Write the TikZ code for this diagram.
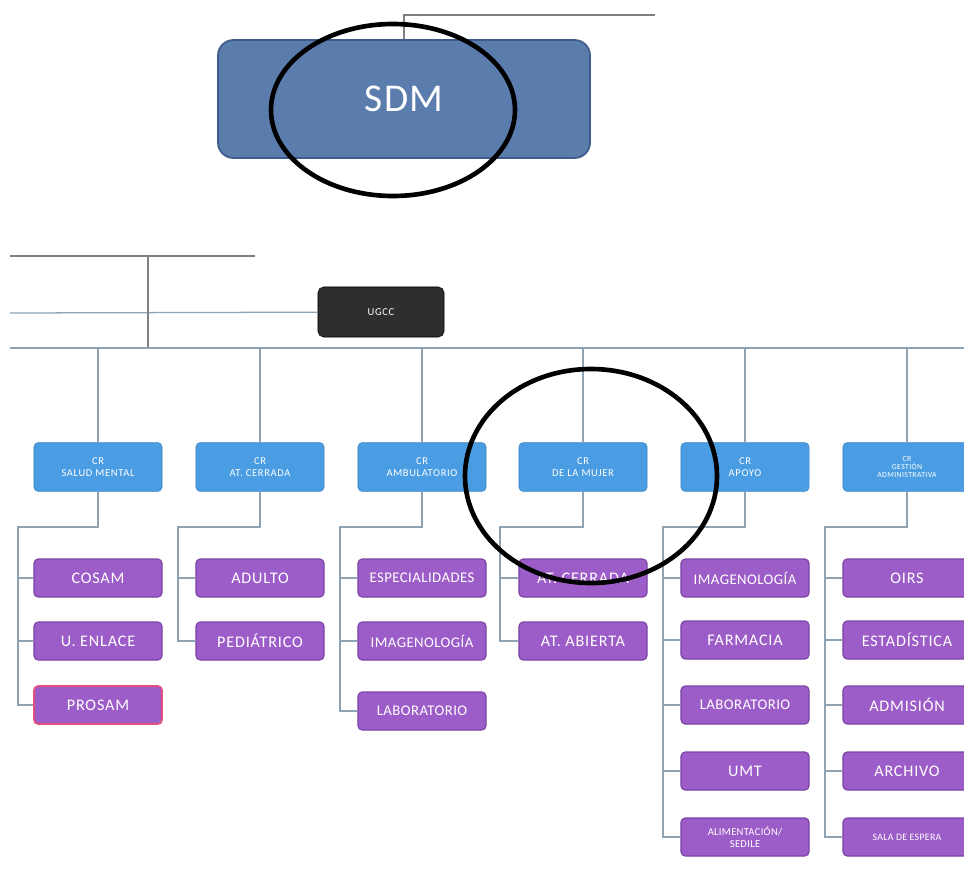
\documentclass[tikz,border=0pt]{standalone}
\usepackage{fontspec}
\setmainfont{Carlito}
\definecolor{sdmblue}{HTML}{5A7DAE}
\definecolor{sdmedge}{HTML}{3D5C8A}
\definecolor{crblue}{HTML}{4A9DE2}
\definecolor{credge}{HTML}{3B82C4}
\definecolor{unitpurple}{HTML}{9D5DC9}
\definecolor{unitedge}{HTML}{7A44A3}
\definecolor{prosamred}{HTML}{E2507E}
\definecolor{ugccgray}{HTML}{2E2E2E}
\definecolor{linegray}{HTML}{8FA3B3}

\begin{document}
\begin{tikzpicture}[x=0.025cm,y=-0.025cm,
    every node/.style={text=white,align=center},
    sdmbox/.style={fill=sdmblue,draw=sdmedge,line width=1.2pt,rounded corners=11pt,minimum width=9.3cm,minimum height=2.95cm,font=\fontsize{28}{30}\selectfont\addfontfeature{LetterSpace=4}},
    ugccbox/.style={fill=ugccgray,draw=black,rounded corners=4pt,minimum width=3.15cm,minimum height=1.25cm,font=\fontsize{7.5}{8}\selectfont\addfontfeature{LetterSpace=6}},
    crbox/.style={fill=crblue,draw=credge,rounded corners=3pt,minimum width=3.2cm,minimum height=1.22cm,font=\fontsize{7.5}{8}\selectfont\addfontfeature{LetterSpace=6}},
    unitbox/.style={fill=unitpurple,draw=unitedge,line width=0.8pt,rounded corners=3pt,minimum width=3.2cm,minimum height=0.95cm,font=\fontsize{11.5}{12}\selectfont\addfontfeature{LetterSpace=5}},
    smalltext/.style={font=\fontsize{10.5}{11}\selectfont\addfontfeature{LetterSpace=3}},
    wire/.style={draw=linegray,line width=0.9pt},
    ring/.style={draw=black,line width=3.3pt}]
    \useasboundingbox (0,0) rectangle (964,881);
    %top
    \node[sdmbox] (sdm) at (404,99) {SDM};
    \coordinate (topr) at (655,15);
    \draw[wire,draw=gray] (sdm.north) |- (topr);
    \draw[ring] (393,110) ellipse [x radius=122, y radius=86];
    %ugcc and bus
    \node[ugccbox] (ugcc) at (381,312) {UGCC};
    \coordinate (l1) at (10,256);
    \coordinate (l1r) at (255,256);
    \coordinate (l2) at (10,313);
    \coordinate (j1) at (148,256);
    \coordinate (busl) at (10,348);
    \coordinate (busr) at (964,348);
    \draw[wire,draw=gray] (l1) -- (l1r);
    \draw[wire] (l2) -- (ugcc);
    \draw[wire,draw=gray] (j1) -- (j1 |- busl);
    \draw[wire] (busl) -- (busr);
    %cr
    \node[crbox] (sm) at (98,467) {CR\\SALUD MENTAL};
    \node[crbox] (ac) at (260,467) {CR\\AT. CERRADA};
    \node[crbox] (am) at (422,467) {CR\\AMBULATORIO};
    \node[crbox] (mu) at (583,467) {CR\\DE LA MUJER};
    \node[crbox] (ap) at (745,467) {CR\\APOYO};
    \node[crbox,font=\fontsize{5.5}{6}\selectfont\addfontfeature{LetterSpace=5}] (ga) at (907,467) {CR\\GESTIÓN\\ADMINISTRATIVA};
    \draw[wire] (sm) -- (sm |- busl);
    \draw[wire] (ac) -- (ac |- busl);
    \draw[wire] (am) -- (am |- busl);
    \draw[wire] (mu) -- (mu |- busl);
    \draw[wire] (ap) -- (ap |- busl);
    \draw[wire] (ga) -- (ga |- busl);
    %salud mental
    \node[unitbox] (sm1) at (98,578) {COSAM};
    \node[unitbox] (sm2) at (98,641) {U. ENLACE};
    \node[unitbox,draw=prosamred,line width=1.2pt] (sm3) at (98,705) {PROSAM};
    \coordinate (ksm) at (18,527);
    \draw[wire] (sm.south) |- (ksm) |- (sm3);
    \draw[wire] (ksm) |- (sm1);
    \draw[wire] (ksm) |- (sm2);
    %at. cerrada
    \node[unitbox] (ac1) at (260,578) {ADULTO};
    \node[unitbox] (ac2) at (260,641) {PEDIÁTRICO};
    \coordinate (kac) at (178,527);
    \draw[wire] (ac.south) |- (kac) |- (ac2);
    \draw[wire] (kac) |- (ac1);
    %ambulatorio
    \node[unitbox,smalltext] (am1) at (422,578) {ESPECIALIDADES};
    \node[unitbox,smalltext] (am2) at (422,641) {IMAGENOLOGÍA};
    \node[unitbox,smalltext] (am3) at (422,711) {LABORATORIO};
    \coordinate (kam) at (340,527);
    \draw[wire] (am.south) |- (kam) |- (am3);
    \draw[wire] (kam) |- (am1);
    \draw[wire] (kam) |- (am2);
    %mujer
    \node[unitbox] (mu1) at (583,578) {AT. CERRADA};
    \node[unitbox] (mu2) at (583,641) {AT. ABIERTA};
    \coordinate (kmu) at (500,527);
    \draw[wire] (mu.south) |- (kmu) |- (mu2);
    \draw[wire] (kmu) |- (mu1);
    %apoyo
    \node[unitbox,smalltext] (ap1) at (745,578) {IMAGENOLOGÍA};
    \node[unitbox] (ap2) at (745,640) {FARMACIA};
    \node[unitbox,smalltext] (ap3) at (745,705) {LABORATORIO};
    \node[unitbox] (ap4) at (745,771) {UMT};
    \node[unitbox,font=\fontsize{7.5}{8}\selectfont\addfontfeature{LetterSpace=3}] (ap5) at (745,837) {ALIMENTACIÓN/\\SEDILE};
    \coordinate (kap) at (663,527);
    \draw[wire] (ap.south) |- (kap) |- (ap5);
    \draw[wire] (kap) |- (ap1);
    \draw[wire] (kap) |- (ap2);
    \draw[wire] (kap) |- (ap3);
    \draw[wire] (kap) |- (ap4);
    %gestion
    \node[unitbox] (ga1) at (907,578) {OIRS};
    \node[unitbox] (ga2) at (907,640) {ESTADÍSTICA};
    \node[unitbox] (ga3) at (907,705) {ADMISIÓN};
    \node[unitbox] (ga4) at (907,771) {ARCHIVO};
    \node[unitbox,font=\fontsize{7}{7.5}\selectfont\addfontfeature{LetterSpace=3}] (ga5) at (907,837) {SALA DE ESPERA};
    \coordinate (kga) at (825,527);
    \draw[wire] (ga.south) |- (kga) |- (ga5);
    \draw[wire] (kga) |- (ga1);
    \draw[wire] (kga) |- (ga2);
    \draw[wire] (kga) |- (ga3);
    \draw[wire] (kga) |- (ga4);
    %mark
    \draw[ring] (591,476) ellipse [x radius=126, y radius=107];
\end{tikzpicture}
\end{document}
